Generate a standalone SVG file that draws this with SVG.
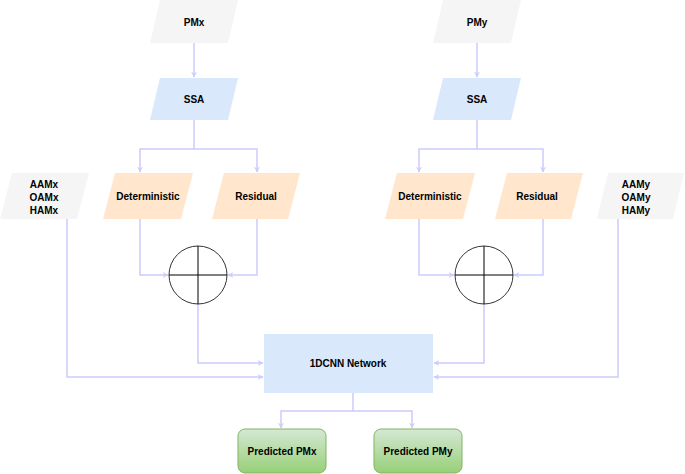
<svg xmlns="http://www.w3.org/2000/svg" width="685" height="474" viewBox="0 0 685 474">
<style>
text{font-family:"Liberation Sans",Arial,sans-serif;font-size:10px;font-weight:bold;fill:#000;text-anchor:middle;dominant-baseline:central}
.g{fill:#f5f5f5}
.b{fill:#dae8fc}
.o{fill:#ffe6cc}
.c{fill:none;stroke:#ccccff;stroke-width:1.5;marker-end:url(#ah)}
.sum{fill:#fff;stroke:#333;stroke-width:1}
.sl{stroke:#000;stroke-width:1}
.gr{fill:url(#gg);stroke:#82b366;stroke-width:1}
</style>
<defs>
<marker id="ah" viewBox="0 0 10 10" refX="9" refY="5" markerWidth="6" markerHeight="6" orient="auto" markerUnits="userSpaceOnUse">
<path d="M0,0 L10,5 L0,10 L3,5 z" fill="#ccccff"/>
</marker>
<linearGradient id="gg" x1="0" y1="0" x2="0" y2="1">
<stop offset="0" stop-color="#d5e8d4"/>
<stop offset="1" stop-color="#97d077"/>
</linearGradient>
</defs>
<g id="connectors">
<path class="c" d="M194,43 V77"/>
<path class="c" d="M194,120 V149 H140 V172"/>
<path class="c" d="M194,149 H257 V172"/>
<path class="c" d="M477,43 V77"/>
<path class="c" d="M477,120 V149 H419 V172"/>
<path class="c" d="M477,149 H543 V172"/>
<path class="c" d="M140,219 V275 H168"/>
<path class="c" d="M257,219 V275 H228"/>
<path class="c" d="M419,219 V275 H454"/>
<path class="c" d="M543,219 V275 H514"/>
<path class="c" d="M198,304 V363 H263"/>
<path class="c" d="M67,219 V377 H263"/>
<path class="c" d="M484,304 V363 H434"/>
<path class="c" d="M618,219 V377 H434"/>
<path class="c" d="M353,393 V411 H281 V428"/>
<path class="c" d="M353,411 H412 V428"/>
</g>
<g id="pmx"><polygon class="g" points="160,0 238,0 228,43 150,43"/><text x="194" y="22">PMx</text></g>
<g id="pmy"><polygon class="g" points="443,0 521,0 511,43 433,43"/><text x="477" y="22">PMy</text></g>
<g id="ssa-x"><polygon class="b" points="160,78 238,78 228,120 150,120"/><text x="194" y="99">SSA</text></g>
<g id="ssa-y"><polygon class="b" points="443,78 521,78 511,120 433,120"/><text x="477" y="99">SSA</text></g>
<g id="det-x"><polygon class="o" points="115,173 193,173 181,219 103,219"/><text x="148" y="196">Deterministic</text></g>
<g id="res-x"><polygon class="o" points="224,173 300,173 288,219 212,219"/><text x="256" y="196">Residual</text></g>
<g id="det-y"><polygon class="o" points="397,173 475,173 463,219 385,219"/><text x="430" y="196">Deterministic</text></g>
<g id="res-y"><polygon class="o" points="507,173 583,173 571,219 495,219"/><text x="537" y="196">Residual</text></g>
<g id="aux-x"><polygon class="g" points="12,173 89,173 77,219 0,219"/><text x="44" y="184">AAMx</text><text x="44" y="197">OAMx</text><text x="44" y="210">HAMx</text></g>
<g id="aux-y"><polygon class="g" points="608,173 684,173 673,219 597,219"/><text x="636" y="184">AAMy</text><text x="636" y="197">OAMy</text><text x="636" y="210">HAMy</text></g>
<g id="sum-x"><circle class="sum" cx="198" cy="275" r="29"/><line class="sl" x1="169" y1="275" x2="227" y2="275"/><line class="sl" x1="198" y1="246" x2="198" y2="304"/></g>
<g id="sum-y"><circle class="sum" cx="484" cy="275" r="29"/><line class="sl" x1="455" y1="275" x2="513" y2="275"/><line class="sl" x1="484" y1="246" x2="484" y2="304"/></g>
<g id="cnn"><rect class="b" x="264" y="334" width="169" height="59"/><text x="348" y="363">1DCNN Network</text></g>
<g id="pred-x"><rect class="gr" x="238" y="429" width="88" height="44" rx="7"/><text x="282" y="451">Predicted PMx</text></g>
<g id="pred-y"><rect class="gr" x="374" y="429" width="88" height="44" rx="7"/><text x="418" y="451">Predicted PMy</text></g>
</svg>
